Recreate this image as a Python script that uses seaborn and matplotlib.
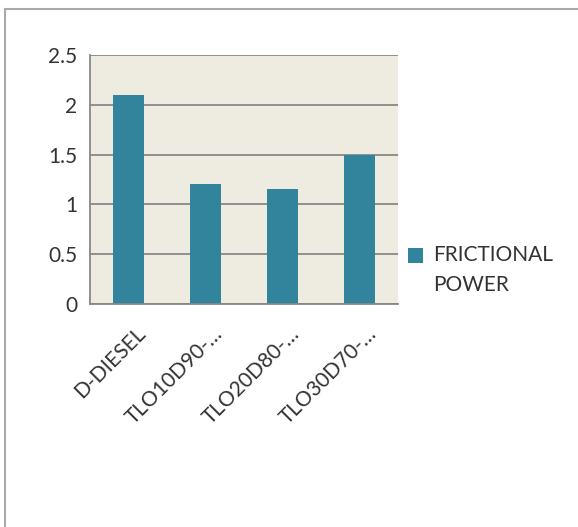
import matplotlib
matplotlib.use("Agg")
import matplotlib.pyplot as plt
import matplotlib.patches as mpatches
import matplotlib.transforms as mtransforms
import seaborn as sns
import pandas as pd

# Frictional power for each fuel blend
categories = ["D-DIESEL", "TLO10D90-\u2026", "TLO20D80-\u2026", "TLO30D70-\u2026"]
frictional_power = [2.1, 1.2, 1.15, 1.5]
series_name = "FRICTIONAL\nPOWER"
y_ticks = [0, 0.5, 1, 1.5, 2, 2.5]
y_tick_labels = ["0", "0.5", "1", "1.5", "2", "2.5"]

df = pd.DataFrame({"blend": categories, "power": frictional_power, "series": series_name})

sns.set_theme(style="white")
plt.rcParams["font.family"] = ["Lato", "DejaVu Sans"]

bar_color = "#31849B"
text_color = "#333333"
fig = plt.figure(figsize=(5.78, 5.27), dpi=100)
ax = fig.add_axes([90 / 578, 1 - 304 / 527, 308 / 578, 249 / 527])
ax.set_facecolor("#EEECE1")

sns.barplot(data=df, x="blend", y="power", hue="series", palette=[bar_color],
            width=0.4, saturation=1, linewidth=0, ax=ax, legend=True)

ax.set_ylim(0, 2.5)
ax.set_xlim(-0.5, 3.5)
ax.set_yticks(y_ticks)
ax.set_yticklabels(y_tick_labels)
ax.yaxis.grid(True, color="#888888", linewidth=1.3)
ax.set_axisbelow(True)
ax.set_xlabel("")
ax.set_ylabel("")

for side in ["top", "right"]:
    ax.spines[side].set_visible(False)
for side in ["left", "bottom"]:
    ax.spines[side].set_color("#888888")
    ax.spines[side].set_linewidth(1.3)

ax.tick_params(axis="both", length=0, labelsize=15, colors=text_color)
ax.tick_params(axis="y", pad=9)
ax.tick_params(axis="x", pad=14)
shift = mtransforms.ScaledTranslation(7 / 100, 0, fig.dpi_scale_trans)
for lbl in ax.get_xticklabels():
    lbl.set_rotation(45)
    lbl.set_ha("right")
    lbl.set_rotation_mode("anchor")
    lbl.set_transform(lbl.get_transform() + shift)

handles, labels = ax.get_legend_handles_labels()
leg = ax.legend(handles, labels, loc="center left",
                bbox_to_anchor=(389 / 578, 1 - 270 / 527),
                bbox_transform=fig.transFigure, frameon=False, fontsize=15,
                handlelength=0.75, handleheight=0.75, handletextpad=0.45,
                labelcolor=text_color)
for t in leg.get_texts():
    t.set_linespacing(1.6)
# keep the legend swatch level with the first line of its label
for h in leg.legend_handles:
    h.set_y(h.get_y() + 11)

# outer chart border
fig.patches.append(mpatches.Rectangle((5 / 578, -0.1), 1.2, 1 - 9 / 527 + 0.1,
                                      transform=fig.transFigure, fill=False,
                                      edgecolor="#AAAAAA", linewidth=1.5))

fig.savefig("out.png", dpi=100)
